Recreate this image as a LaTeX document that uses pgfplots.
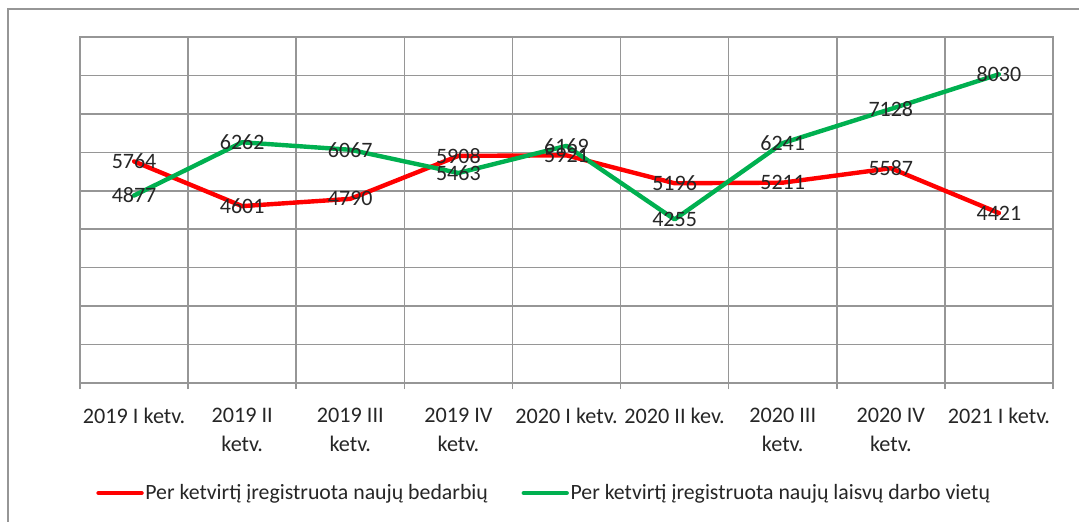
\documentclass[border=0pt]{standalone}
\usepackage{fontspec}
\setmainfont{Carlito}
\usepackage{pgfplots}
\pgfplotsset{compat=1.18}
\definecolor{exred}{RGB}{255,0,0}
\definecolor{exgreen}{RGB}{0,176,80}
\definecolor{gridc}{RGB}{150,150,150}
\definecolor{txt}{RGB}{38,38,38}
\newcommand{\lblfont}{\fontsize{11.1bp}{14.5bp}\selectfont}
\newcommand{\legfont}{\fontsize{10.9bp}{13bp}\selectfont}
\newcommand{\numfont}{\fontsize{11bp}{13bp}\selectfont}
\begin{document}
\begin{tikzpicture}
\useasboundingbox (0,0) rectangle (539.5bp,261bp);
\draw[gridc, line width=0.9bp] (4bp,0) -- (4bp,256.5bp) -- (539.5bp,256.5bp);
\begin{axis}[
  at={(40bp,69.5bp)}, anchor=south west,
  width=486.5bp, height=173bp, scale only axis,
  xmin=0.5, xmax=9.5, ymin=0, ymax=9000,
  axis line style={gridc, line width=0.75bp},
  xtick={1,...,9},
  xticklabels={2019 I ketv., {2019 II\\ketv.}, {2019 III\\ketv.}, {2019 IV\\ketv.}, 2020 I ketv., 2020 II kev., {2020 III\\ketv.}, {2020 IV\\ketv.}, 2021 I ketv.},
  xticklabel style={align=center, font=\lblfont, text=txt, anchor=north, yshift=-5bp},
  major x tick style={draw=none},
  minor xtick={0.5,1.5,...,9.5},
  xminorgrids,
  minor tick length=3bp,
  tick align=outside,
  tick pos=bottom,
  minor x tick style={gridc, line width=0.75bp},
  ytick={0,1000,...,9000},
  yticklabels={},
  ytick style={draw=none},
  ymajorgrids,
  grid style={gridc, line width=0.75bp},
  minor grid style={gridc, line width=0.75bp},
  legend columns=2,
  legend style={at={(0.0164,-0.318)}, anchor=west, draw=none, inner sep=0pt,
    font=\legfont, text=txt, nodes={inner sep=0.8bp},
    /tikz/every even column/.append style={column sep=16bp}},
  legend image code/.code={\draw[#1, line width=2.2bp, line cap=round] (0bp,0bp) -- (21.5bp,0bp);},
  nodes near coords style={font=\numfont, text=txt, anchor=center,
    /pgf/number format/1000 sep={}, /pgf/number format/assume math mode=true},
]
\addplot[exred, line width=2.2bp, line join=round, line cap=round] coordinates {
  (1,5764) (2,4601) (3,4790) (4,5908) (5,5921) (6,5196) (7,5211) (8,5587) (9,4421)};
\addlegendentry{Per ketvirtį įregistruota naujų bedarbių}
\addplot[exgreen, line width=2.2bp, line join=round, line cap=round] coordinates {
  (1,4877) (2,6262) (3,6067) (4,5463) (5,6169) (6,4255) (7,6241) (8,7128) (9,8030)};
\addlegendentry{Per ketvirtį įregistruota naujų laisvų darbo vietų}
\addplot[draw=none, forget plot, nodes near coords, every node near coord/.append style={anchor=center}] coordinates {
  (1,5764) (2,4601) (3,4790) (4,5908) (5,5921) (6,5196) (7,5211) (8,5587) (9,4421)};
\addplot[draw=none, forget plot, nodes near coords, every node near coord/.append style={anchor=center}] coordinates {
  (1,4877) (2,6262) (3,6067) (4,5463) (5,6169) (6,4255) (7,6241) (8,7128) (9,8030)};
\end{axis}
\end{tikzpicture}
\end{document}
